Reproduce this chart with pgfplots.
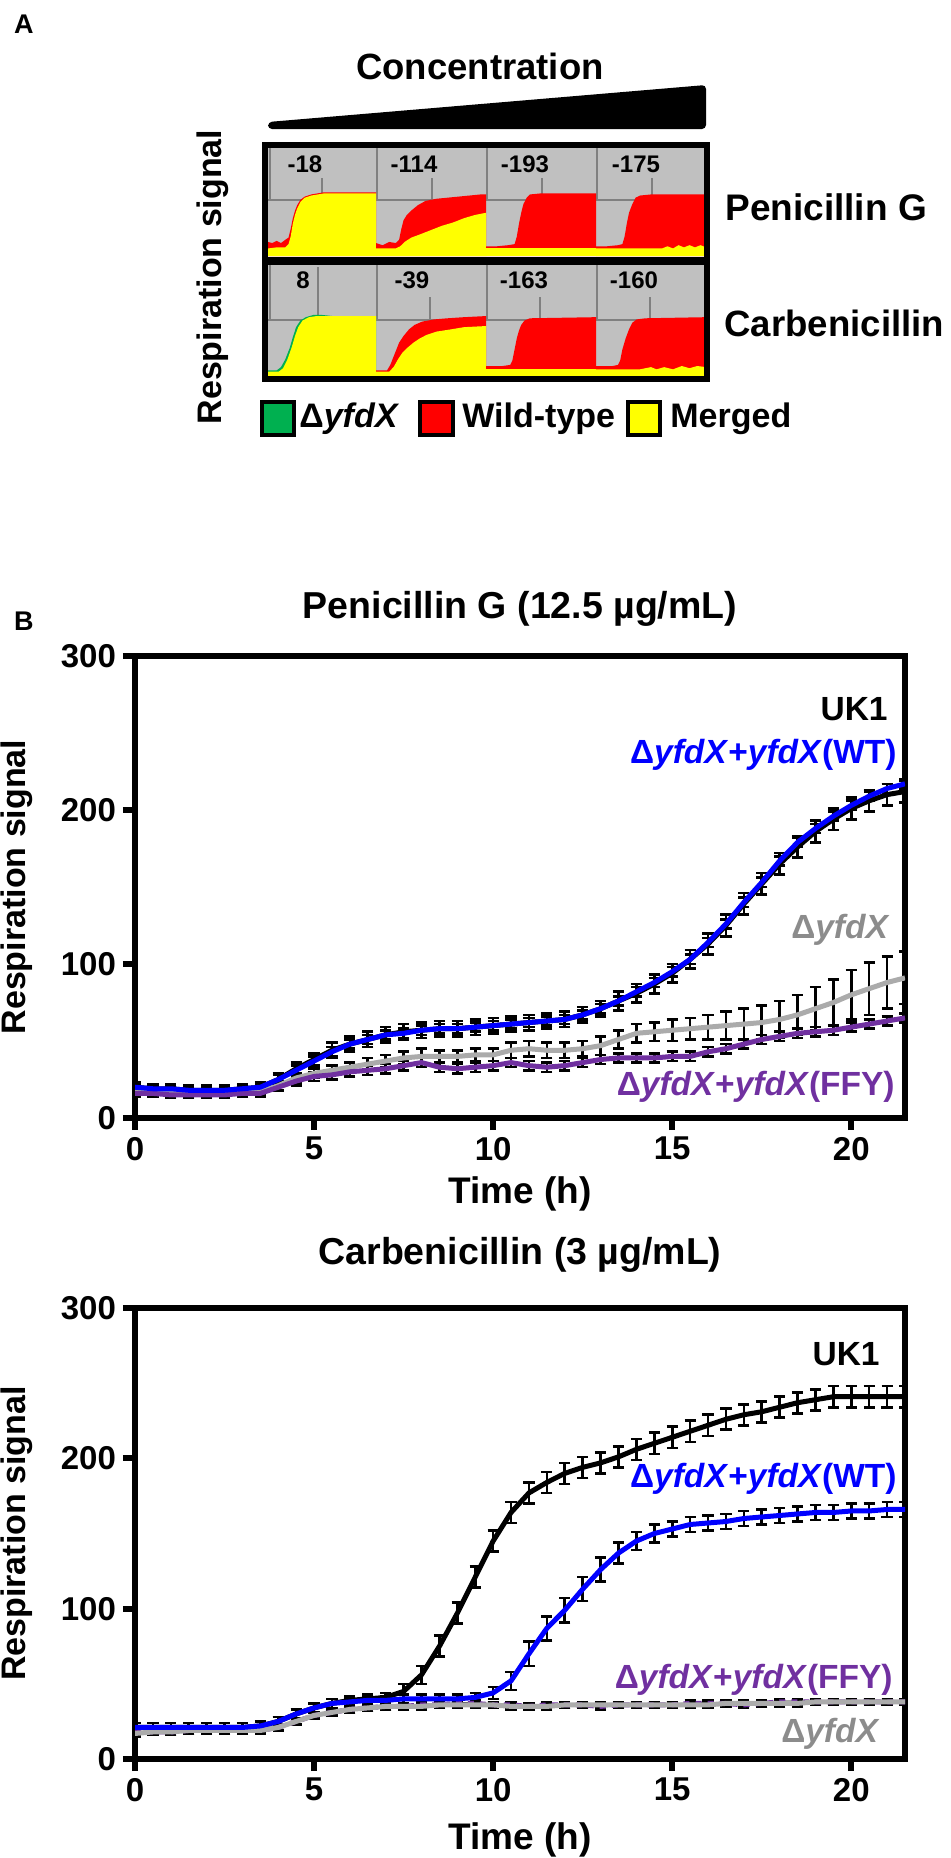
\documentclass[border=0pt]{standalone}
\usepackage{fontspec}
\setmainfont{Liberation Sans}
\usepackage{pgfplots}
\pgfplotsset{compat=1.18}
\usepackage{pgfplotstable}

\definecolor{cgray}{HTML}{C0C0C0}
\definecolor{cgrid}{HTML}{808080}
\definecolor{mgreen}{HTML}{00B050}
\definecolor{mpurple}{HTML}{7030A0}
\definecolor{lgray}{HTML}{ABABAB}
\definecolor{tgray}{HTML}{8C8C8C}
\definecolor{mblue}{HTML}{0000FF}
\definecolor{mred}{HTML}{FF0000}
\definecolor{myellow}{HTML}{FFFF00}

\newcommand{\fs}[1]{\fontsize{#1}{#1}\selectfont\bfseries}

\pgfplotstableread{
t uk1 uk1e wt wte dx dxe ff ffe
0 20 3 20 2 17 2 16 2
0.5 19 3 19 2 17 2 16 2
1 19 3 19 2 16 2 15 2
1.5 18 3 18 2 16 2 15 2
2 18 3 18 2 16 2 15 2
2.5 18 3 18 2 16 2 15 2
3 19 3 19 2 16 2 16 2
3.5 20 3 20 2 17 2 16 2
4 25 4 25 3 21 3 20 2
4.5 32 4 31 3 26 3 24 3
5 38 4 37 3 29 3 27 3
5.5 44 5 43 3 31 3 28 3
6 48 5 48 3 33 3 30 3
6.5 51 5 51 3 35 4 31 3
7 54 5 54 3 37 4 32 3
7.5 56 5 55 3 39 4 34 3
8 57 5 57 3 40 5 36 3
8.5 58 5 58 3 40 4 33 3
9 58 5 58 3 40 4 32 3
9.5 59 5 59 3 41 4 33 3
10 60 5 60 3 41 4 34 3
10.5 61 5 61 3 44 5 36 3
11 62 5 62 3 45 5 34 3
11.5 63 5 63 3 44 5 33 3
12 64 5 64 3 44 5 34 3
12.5 67 5 67 3 45 5 36 3
13 71 5 71 3 47 6 38 3
13.5 76 6 76 3 51 6 39 3
14 81 6 82 3 55 6 39 3
14.5 87 6 88 3 56 6 39 3
15 94 6 95 3 57 7 40 3
15.5 103 6 103 3 58 7 40 3
16 113 7 114 3 59 8 43 3
16.5 125 7 126 3 60 9 45 3
17 139 7 140 3 61 10 48 3
17.5 152 7 153 3 62 11 51 3
18 165 7 167 3 64 12 53 3
18.5 176 7 179 3 67 13 55 3
19 186 7 188 3 71 14 56 3
19.5 194 7 196 3 75 15 57 3
20 201 7 203 3 80 16 59 3
20.5 206 7 209 3 84 17 61 3
21 210 7 214 3 88 17 63 3
21.5 212 7 217 3 91 17 65 3
}\pen

\pgfplotstableread{
t uk1 uk1e wt wte dx dxe ff ffe
0 21 3 21 3 17 2 18 2
0.5 21 3 21 3 18 2 18 2
1 21 3 21 3 18 2 18 2
1.5 21 3 21 3 19 2 19 2
2 21 3 21 3 19 2 19 2
2.5 21 3 21 3 19 2 19 2
3 21 3 21 3 19 2 19 2
3.5 22 3 22 3 19 2 19 2
4 25 3 25 3 21 2 21 2
4.5 30 3 30 3 25 2 25 2
5 34 3 34 3 29 2 29 2
5.5 37 3 37 3 31 2 31 2
6 39 3 38 3 33 2 33 2
6.5 40 3 39 3 34 2 34 2
7 41 3 39 3 35 2 35 2
7.5 45 5 40 3 35 2 35 2
8 56 6 40 3 35 2 36 2
8.5 75 7 40 3 36 2 36 2
9 97 7 40 3 36 2 37 2
9.5 121 7 41 3 36 2 37 2
10 145 7 44 4 36 2 36 2
10.5 164 7 52 6 35 2 36 2
11 177 7 70 8 35 2 35 2
11.5 184 7 87 8 35 2 36 2
12 190 7 99 8 36 2 36 2
12.5 194 7 113 8 36 2 36 2
13 197 7 126 8 36 2 35 2
13.5 201 7 137 7 36 2 36 2
14 206 7 145 6 36 2 36 2
14.5 210 7 150 6 36 2 36 2
15 214 7 153 5 36 2 36 2
15.5 218 7 156 5 36 2 37 2
16 222 7 157 5 36 2 37 2
16.5 226 7 158 5 37 2 37 2
17 229 7 160 5 37 2 36 2
17.5 231 7 161 5 37 2 37 2
18 234 7 162 5 37 2 38 2
18.5 237 7 163 5 37 2 38 2
19 239 7 164 5 38 2 38 2
19.5 241 7 164 5 38 2 38 2
20 241 7 165 5 38 2 38 2
20.5 241 7 165 5 38 2 38 2
21 241 7 166 5 38 2 38 2
21.5 241 7 166 5 38 2 38 2
}\carb

\pgfplotsset{
 mini/.style={scale only axis, hide axis, xmin=0, xmax=100, ymin=0, ymax=100, anchor=south west},
 rplot/.style={
  scale only axis, width=385pt,
  xmin=0, xmax=21.5, ymin=0, ymax=300,
  xtick={0,5,10,15,20}, ytick={0,100,200,300},
  axis line style={line width=3.2pt},
  tick align=outside, tick pos=left,
  major tick length=6pt,
  major tick style={line width=3pt, black},
  tick label style={font=\fs{16.5}},
  /pgf/number format/assume math mode=true,
  ylabel={Respiration signal}, xlabel={Time (h)},
  ylabel style={font=\fs{17}, at={(axis description cs:-0.153,0.5)}, anchor=center},
  title style={font=\fs{18.75}, anchor=base},
  anchor=south west,
 },
 ebar/.style={black, line width=1.2pt, mark=none,
  error bars/.cd, y dir=both, y explicit,
  error bar style={line width=1.3pt, black, solid},
  error mark options={black, line width=1.3pt, mark size=2.8pt, rotate=90}},
}

\begin{document}
\begin{tikzpicture}
\path[use as bounding box] (0,0) rectangle (475pt,-929pt);

% ---------------- Panel A background, grid ----------------
\begin{scope}[x=0.5pt,y=-0.5pt]
\node[anchor=base west, font=\fs{13.5}] at (7,33) {A};
\node[anchor=base, font=\fs{18.25}] at (480,79) {Concentration};
\fill[rounded corners=2pt] (268,122) -- (706,85) -- (706,129) -- (268,129) -- cycle;
\fill[cgray] (268,148) rectangle (706,256);
\fill[cgray] (268,265) rectangle (706,376);
\begin{scope}[draw=cgrid, line width=0.8pt]
\draw (268,200) -- (706,200);
\draw (268,320) -- (706,320);
\foreach \xx in {270,377,487,597} {\draw (\xx,148) -- (\xx,200); \draw (\xx,265) -- (\xx,320);}
\foreach \xx in {322,432,542,652} {\draw (\xx,178) -- (\xx,200);}
\foreach \xx in {318,430,540,650} {\draw (\xx,297) -- (\xx,320);}
\draw (318,267) -- (318,297);
\end{scope}
\end{scope}

% ---------------- Panel A mini charts ----------------
% top row (Penicillin G)
\begin{axis}[mini, at={(134pt,-128pt)}, width=54pt, height=54pt]
\addplot[fill=mred, draw=none] coordinates {(0,13)(4,12)(8,14)(12,12)(16,15)(19,17)(21,25)(23,35)(25,42)(27,47)(30,52)(34,55)(40,57)(46,58)(52,59)(100,59)} \closedcycle;
\addplot[fill=myellow, draw=none] coordinates {(0,7)(8,8)(16,8)(19,11)(21,18)(23,30)(25,38)(27,44)(30,50)(34,54)(40,56)(46,57)(52,58)(100,58)} \closedcycle;
\end{axis}
\begin{axis}[mini, at={(188pt,-128pt)}, width=55pt, height=54pt]
\addplot[fill=mred, draw=none] coordinates {(0,12)(6,10)(12,13)(18,12)(21,15)(23,25)(25,33)(28,38)(32,42)(38,47)(45,51)(55,53)(65,54)(75,55)(85,56)(95,57)(100,57)} \closedcycle;
\addplot[fill=myellow, draw=none] coordinates {(0,7)(18,7)(22,9)(26,13)(32,17)(40,20)(50,24)(60,28)(70,31)(80,35)(90,38)(100,40)} \closedcycle;
\end{axis}
\begin{axis}[mini, at={(243pt,-128pt)}, width=55pt, height=54pt]
\addplot[fill=mred, draw=none] coordinates {(0,9)(10,9)(20,10)(26,11)(28,18)(30,30)(32,40)(34,48)(37,54)(40,57)(50,58)(100,58)} \closedcycle;
\addplot[fill=myellow, draw=none] coordinates {(0,7)(100,7)} \closedcycle;
\end{axis}
\begin{axis}[mini, at={(298pt,-128pt)}, width=55pt, height=54pt]
\addplot[fill=mred, draw=none] coordinates {(0,9)(10,9)(20,10)(24,11)(26,18)(28,30)(30,40)(33,48)(36,54)(40,56)(50,57)(100,57)} \closedcycle;
\addplot[fill=myellow, draw=none] coordinates {(0,7)(60,7)(65,9)(70,7)(75,10)(80,8)(85,10)(90,8)(95,10)(100,8)} \closedcycle;
\end{axis}
% bottom row (Carbenicillin)
\begin{axis}[mini, at={(134pt,-188pt)}, width=54pt, height=55.5pt]
\addplot[fill=mgreen, draw=none] coordinates {(0,5)(8,5)(12,8)(16,15)(20,25)(23,35)(26,44)(30,50)(35,53)(42,55)(50,55)(60,54)(100,54)} \closedcycle;
\addplot[fill=myellow, draw=none] coordinates {(0,4)(10,4)(14,7)(18,15)(22,26)(25,36)(28,44)(32,50)(38,53)(45,54)(100,54)} \closedcycle;
\end{axis}
\begin{axis}[mini, at={(188pt,-188pt)}, width=55pt, height=55.5pt]
\addplot[fill=mred, draw=none] coordinates {(0,5)(10,5)(13,10)(17,20)(21,30)(25,36)(30,42)(35,46)(42,49)(53,51)(65,52)(80,53)(100,54)} \closedcycle;
\addplot[fill=myellow, draw=none] coordinates {(0,4)(12,4)(16,8)(20,15)(24,21)(28,25)(34,30)(40,34)(46,37)(55,40)(68,42)(80,44)(100,45)} \closedcycle;
\end{axis}
\begin{axis}[mini, at={(243pt,-188pt)}, width=55pt, height=55.5pt]
\addplot[fill=mred, draw=none] coordinates {(0,9)(15,9)(22,10)(24,14)(26,24)(28,34)(30,41)(32,46)(35,50)(40,52)(100,53)} \closedcycle;
\addplot[fill=myellow, draw=none] coordinates {(0,6)(100,6)} \closedcycle;
\end{axis}
\begin{axis}[mini, at={(298pt,-188pt)}, width=55pt, height=55.5pt]
\addplot[fill=mred, draw=none] coordinates {(0,9)(15,9)(20,10)(22,14)(24,24)(27,34)(30,42)(33,48)(37,51)(45,52)(100,53)} \closedcycle;
\addplot[fill=myellow, draw=none] coordinates {(0,6)(40,6)(50,8)(55,6)(62,8)(70,6)(78,9)(85,7)(92,9)(100,8)} \closedcycle;
\end{axis}

% ---------------- Panel A frame and labels ----------------
\begin{scope}[x=0.5pt,y=-0.5pt]
\draw[line width=3pt] (265,145) rectangle (707,379);
\draw[line width=4pt] (265,260.5) -- (707,260.5);
\node[anchor=base, font=\fs{12}] at (305,172) {-18};
\node[anchor=base, font=\fs{12}] at (414,172) {-114};
\node[anchor=base, font=\fs{12}] at (525,172) {-193};
\node[anchor=base, font=\fs{12}] at (636,172) {-175};
\node[anchor=base, font=\fs{12}] at (303,288) {8};
\node[anchor=base, font=\fs{12}] at (412,288) {-39};
\node[anchor=base, font=\fs{12}] at (524,288) {-163};
\node[anchor=base, font=\fs{12}] at (634,288) {-160};
\node[anchor=base west, font=\fs{18.5}, inner sep=0pt] at (725,220) {Penicillin G};
\node[anchor=base west, font=\fs{18.3}, inner sep=0pt] at (724,336) {Carbenicillin};
\node[rotate=90, font=\fs{17}] at (213,277) {Respiration signal};
\filldraw[fill=mgreen, draw=black, line width=2pt] (262,402) rectangle (294,435);
\node[anchor=base west, font=\fs{17}, inner sep=0pt] at (299,427) {Δ\textit{yfdX}};
\filldraw[fill=mred, draw=black, line width=2pt] (420,402) rectangle (453,435);
\node[anchor=base west, font=\fs{17}, inner sep=0pt] at (462,427) {Wild-type};
\filldraw[fill=myellow, draw=black, line width=2pt] (628,402) rectangle (660,435);
\node[anchor=base west, font=\fs{17}, inner sep=0pt] at (670,427) {Merged};
\node[anchor=base west, font=\fs{13.5}] at (7,630) {B};
\end{scope}

% ---------------- Panel B top: Penicillin G ----------------
\begin{axis}[rplot, height=231pt, at={(67.5pt,-559pt)},
  title={Penicillin G (12.5 µg/mL)},
  title style={at={(axis description cs:0.5,1.056)}},
  xlabel style={font=\fs{18.5}, at={(axis description cs:0.5,-0.186)}, anchor=base}]
\addplot[ebar] table[x=t, y=uk1, y error=uk1e] {\pen};
\addplot[ebar] table[x=t, y=dx, y error=dxe] {\pen};
\addplot[ebar] table[x=t, y=ff, y error=ffe] {\pen};
\addplot[ebar] table[x=t, y=wt, y error=wte] {\pen};
\addplot[black, line width=2.5pt] table[x=t, y=uk1] {\pen};
\addplot[lgray, line width=2.5pt] table[x=t, y=dx] {\pen};
\addplot[mpurple, line width=2.5pt] table[x=t, y=ff] {\pen};
\addplot[mblue, line width=2.5pt] table[x=t, y=wt] {\pen};
\end{axis}

% ---------------- Panel B bottom: Carbenicillin ----------------
\begin{axis}[rplot, height=225.5pt, at={(67.5pt,-879.5pt)},
  title={Carbenicillin (3 µg/mL)},
  title style={at={(axis description cs:0.5,1.069)}},
  xlabel style={font=\fs{18.5}, at={(axis description cs:0.5,-0.2)}, anchor=base}]
\addplot[ebar] table[x=t, y=uk1, y error=uk1e] {\carb};
\addplot[ebar] table[x=t, y=wt, y error=wte] {\carb};
\addplot[ebar] table[x=t, y=ff, y error=ffe] {\carb};
\addplot[ebar] table[x=t, y=dx, y error=dxe] {\carb};
\addplot[black, line width=2.5pt] table[x=t, y=uk1] {\carb};
\addplot[mpurple, line width=2.5pt, dashed] table[x=t, y=ff] {\carb};
\addplot[lgray, line width=2.5pt] table[x=t, y=dx] {\carb};
\addplot[mblue, line width=2.5pt] table[x=t, y=wt] {\carb};
\end{axis}

% ---------------- curve labels ----------------
\begin{scope}[x=0.5pt,y=-0.5pt]
\node[anchor=base east, font=\fs{16.75}, inner sep=0pt] at (888,720) {UK1};
\node[anchor=base east, font=\fs{16.75}, inner sep=0pt, text=mblue] at (897,763) {Δ\textit{yfdX}+\textit{yfdX}(WT)};
\node[anchor=base east, font=\fs{16.75}, inner sep=0pt, text=tgray] at (890,938) {Δ\textit{yfdX}};
\node[anchor=base east, font=\fs{16.75}, inner sep=0pt, text=mpurple] at (895,1095) {Δ\textit{yfdX}+\textit{yfdX}(FFY)};
\node[anchor=base east, font=\fs{16.75}, inner sep=0pt] at (880,1365) {UK1};
\node[anchor=base east, font=\fs{16.75}, inner sep=0pt, text=mblue] at (897,1487) {Δ\textit{yfdX}+\textit{yfdX}(WT)};
\node[anchor=base east, font=\fs{16.75}, inner sep=0pt, text=mpurple] at (893,1688) {Δ\textit{yfdX}+\textit{yfdX}(FFY)};
\node[anchor=base east, font=\fs{16.75}, inner sep=0pt, text=tgray] at (880,1742) {Δ\textit{yfdX}};
\end{scope}
\end{tikzpicture}
\end{document}
